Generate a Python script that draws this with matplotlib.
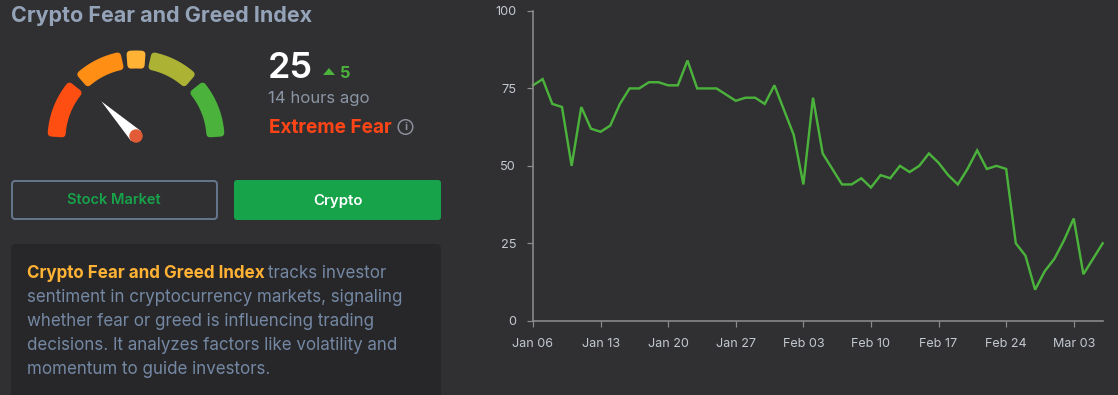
import numpy as np
import pandas as pd
import matplotlib
matplotlib.use('Agg')
import matplotlib.pyplot as plt
from matplotlib.patches import Circle, FancyBboxPatch, Polygon

# Datos
values = [76, 78, 70, 69, 50, 69, 62, 61, 63, 70, 75, 75, 77, 77, 76, 76, 84, 75, 75, 75,
          73, 71, 72, 72, 70, 76, 68, 60, 44, 72, 54, 49, 44, 44, 46, 43, 47, 46, 50, 48,
          50, 54, 51, 47, 44, 49, 55, 49, 50, 49, 25, 21, 10, 16, 20, 26, 33, 15, 20, 25]
start_date = '2025-01-06'
y_ticks = [0, 25, 50, 75, 100]
x_tick_labels = ['Jan 06', 'Jan 13', 'Jan 20', 'Jan 27', 'Feb 03', 'Feb 10', 'Feb 17', 'Feb 24', 'Mar 03']
gauge_value = 25
gauge_change = 5
gauge_colors = ['#FF4E11', '#FF8E15', '#FFB234', '#ACB334', '#4BB33B']
gauge_spans = [(178.5, 139), (133, 100), (96.5, 83.5), (80, 47), (41, 1.5)]
description = ['sentiment in cryptocurrency markets, signaling',
               'whether fear or greed is influencing trading',
               'decisions. It analyzes factors like volatility and',
               'momentum to guide investors.']

BG = '#303033'
FONT = 'Inter'
plt.rcParams['font.family'] = [FONT, 'DejaVu Sans']


def pt(px):
    return px * 0.72


fig = plt.figure(figsize=(11.18, 3.95), dpi=100, facecolor=BG)

# Panel izquierdo en coordenadas de pixel
ax = fig.add_axes([0, 0, 1, 1])
ax.set_xlim(0, 1118)
ax.set_ylim(395, 0)
ax.axis('off')

ax.text(11, 16, 'Crypto Fear and Greed Index', color='#94A3B8', fontsize=pt(21.5),
        fontweight='bold', va='center')

# Indicador semicircular
cx, cy = 136, 139
r_out, r_in = 88.5, 70.5
inset = 3.5
for color, (a0, a1) in zip(gauge_colors, gauge_spans):
    # arco encogido + borde redondeado para las esquinas
    da = np.degrees(inset / 80)
    ang = np.radians(np.linspace(a0 - da, a1 + da, 40))
    outer = np.c_[cx + (r_out - inset) * np.cos(ang), cy - (r_out - inset) * np.sin(ang)]
    inner = np.c_[cx + (r_in + inset) * np.cos(ang), cy - (r_in + inset) * np.sin(ang)]
    ax.add_patch(Polygon(np.vstack([outer, inner[::-1]]), closed=True, facecolor=color,
                         edgecolor=color, linewidth=pt(2 * inset), joinstyle='round'))

# Aguja: el angulo sale del valor
needle_ang = np.radians(180 - gauge_value * 1.8)
nx, ny = 136, 136
tip = (nx + 49 * np.cos(needle_ang), ny - 49 * np.sin(needle_ang))
perp = needle_ang + np.pi / 2
base_a = (nx + 7 * np.cos(perp), ny - 7 * np.sin(perp))
base_b = (nx - 7 * np.cos(perp), ny + 7 * np.sin(perp))
ax.add_patch(Polygon([tip, base_a, base_b], closed=True, facecolor='white', edgecolor='none'))
ax.add_patch(Circle((nx, ny), 6.7, facecolor='#E25A36', edgecolor='none'))

# Lectura
ax.text(267.5, 69, str(gauge_value), color='white', fontsize=pt(36), fontweight='semibold', va='center')
ax.add_patch(Polygon([(323, 75), (335, 75), (329, 68)], closed=True, facecolor='#4BB33B', edgecolor='none'))
ax.text(340, 73, str(gauge_change), color='#4BB33B', fontsize=pt(16.5), fontweight='bold', va='center')
ax.text(268, 98, '14 hours ago', color='#8B95A3', fontsize=pt(16.7), va='center')
ax.text(269, 128, 'Extreme Fear', color='#FF4516', fontsize=pt(19), fontweight='bold', va='center')
ax.add_patch(Circle((405.5, 127), 7.3, facecolor='none', edgecolor='#8A8F99', linewidth=pt(1.5)))
ax.text(405.5, 127.5, 'i', color='#8A8F99', fontsize=pt(11), fontweight='bold', ha='center', va='center')

# Botones
ax.add_patch(FancyBboxPatch((12, 181), 205, 38, boxstyle='round,pad=0,rounding_size=3',
                            facecolor='none', edgecolor='#64748B', linewidth=pt(2)))
ax.text(114, 200.5, 'Stock Market', color='#16A34A', fontsize=pt(14.6), fontweight='semibold',
        ha='center', va='center')
ax.add_patch(FancyBboxPatch((234, 180), 207, 40, boxstyle='round,pad=0,rounding_size=3',
                            facecolor='#16A34A', edgecolor='none'))
ax.text(337.5, 200.5, 'Crypto', color='white', fontsize=pt(15), fontweight='semibold',
        ha='center', va='center')

# Caja de descripcion
ax.add_patch(FancyBboxPatch((11, 244), 430, 170, boxstyle='round,pad=0,rounding_size=5',
                            facecolor='#27272A', edgecolor='none'))
ax.text(27, 273, 'Crypto Fear and Greed Index', color='#FFB234', fontsize=pt(17),
        fontweight='bold', va='center')
ax.text(268, 273, 'tracks investor', color='#7488A3', fontsize=pt(17), va='center')
for i, line in enumerate(description):
    ax.text(27, 297 + 24 * i, line, color='#7488A3', fontsize=pt(17), va='center')

# Grafico de linea
left, right, top, bottom = 533, 1102.7, 11, 320.7
ax2 = fig.add_axes([left / 1118, 1 - bottom / 395, (right - left) / 1118, (bottom - top) / 395])
ax2.patch.set_alpha(0)
dates = pd.date_range(start_date, periods=len(values))
ax2.plot(dates, values, color='#4BB33B', linewidth=pt(2.4), solid_joinstyle='miter', clip_on=False)
ax2.set_xlim(dates[0], dates[-1])
ax2.set_ylim(0, 100)
ax2.set_yticks(y_ticks)
ax2.set_xticks(dates[::7])
ax2.set_xticklabels(x_tick_labels)
for s in ['top', 'right']:
    ax2.spines[s].set_visible(False)
for s in ['left', 'bottom']:
    ax2.spines[s].set_color('#8C8C8C')
    ax2.spines[s].set_linewidth(pt(1.6))
ax2.tick_params(axis='y', length=pt(6), width=pt(1.2), color='#8C8C8C', labelcolor='#C3C8D0',
                labelsize=pt(12.8), pad=pt(11))
ax2.tick_params(axis='x', length=pt(6), width=pt(1.2), color='#8C8C8C', labelcolor='#C3C8D0',
                labelsize=pt(12.6), pad=pt(11))

fig.savefig('out.png', dpi=100, facecolor=BG)
